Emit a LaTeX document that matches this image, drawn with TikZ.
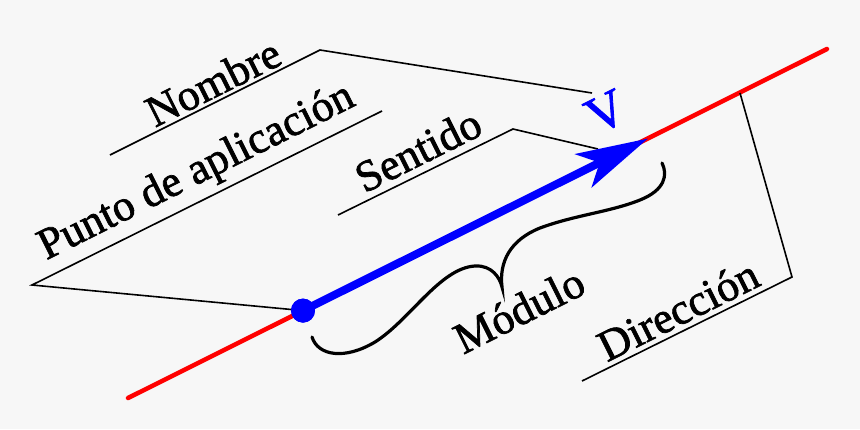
\documentclass[tikz,border=0pt]{standalone}
\usepackage{fontspec}
\setmainfont{Liberation Serif}
\newfontfamily\lblfont[FakeBold=1.6]{Liberation Serif}
\usetikzlibrary{arrows.meta}
\definecolor{bgc}{RGB}{247,247,247}
\tikzset{
  lbl/.style={inner sep=0pt, rotate=26.57, font=\lblfont\fontsize{44}{50}\selectfont},
  leader/.style={draw=black, line width=1.6pt, line join=miter},
  redline/.style={draw=red, line width=4.5pt, line cap=round},
  vecline/.style={draw=blue, line width=8pt, -{Stealth[length=72pt,width=37pt,inset=18pt]}},
  bracestyle/.style={draw=black, line width=3.2pt, line cap=round, line join=miter},
  dotstyle/.style={circle, fill=blue, minimum size=24pt, inner sep=0pt},
}
\begin{document}
\begin{tikzpicture}[x=1pt,y=-1pt]
\fill[bgc] (0,0) rectangle (860,429);
\useasboundingbox (0,0) rectangle (860,429);

% red line of action
\coordinate (rA) at (128,398);
\coordinate (rB) at (827,49);
\draw[redline] (rA) -- (rB);

% leader coordinates
\coordinate (n1) at (110,155);
\coordinate (n2) at (320,50);
\coordinate (n3) at (592,93);
\coordinate (p1) at (382,111);
\coordinate (p2) at (32,285);
\coordinate (s1) at (338,215);
\coordinate (s2) at (513,129);
\coordinate (s3) at (598,149);
\coordinate (d1) at (582,381);
\coordinate (d2) at (792,277);
\coordinate (d3) at (740,93);

% point of application and vector
\coordinate (T) at (648,138.5);
\node[dotstyle] (dot) at (303,310.6) {};

\draw[leader] (n1) -- (n2) -- (n3);
\draw[leader] (p1) -- (p2) -- (dot.center);
\draw[leader] (s1) -- (s2) -- (s3);
\draw[leader] (d1) -- (d2) -- (d3);

\draw[vecline] (dot.center) -- (T);
\node[dotstyle] at (dot) {};

% brace (Módulo)
\coordinate (bL) at (312,337);
\coordinate (bC) at (502,287);
\coordinate (bR) at (662,163);
\draw[bracestyle] (bL) .. controls (318,356) and (345,360) .. (375,342)
  .. controls (410,320) and (440,268) .. (475,266)
  .. controls (492,265) and (500,278) .. (bC)
  .. controls (499,262) and (510,240) .. (540,228)
  .. controls (575,215) and (610,212) .. (640,200)
  .. controls (665,190) and (668,175) .. (bR);

% labels
\node[lbl] (nombre) at (213,82) {Nombre};
\node[lbl] (punto) at (197,173) {Punto de aplicación};
\node[lbl] (sentido) at (418,150) {Sentido};
\node[lbl, text=blue, font=\lblfont\fontsize{52}{56}\selectfont] (V) at (606,112) {V};
\node[lbl] (modulo) at (519,310) {Módulo};
\node[lbl] (direccion) at (678,310) {Dirección};
\end{tikzpicture}
\end{document}
